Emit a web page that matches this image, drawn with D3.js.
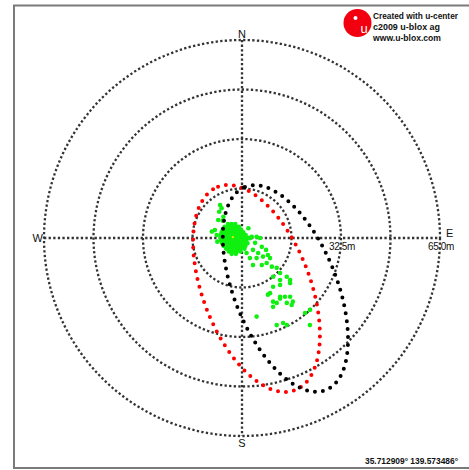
<!DOCTYPE html>
<html>
<head>
<meta charset="utf-8">
<script src="https://cdn.jsdelivr.net/npm/d3@7/dist/d3.min.js"></script>
<style>
  html, body { margin: 0; padding: 0; background: #fff; }
  svg { display: block; }
</style>
</head>
<body>
<script>
// Range rings (metres) and their labels
const ringRadii = [16.25, 32.5, 48.75, 65];
const ringLabels = ["", "32.5m", "", "65.0m"];
const compassLabels = ["N", "E", "S", "W"];

// Error ellipses: centre (m east / m north), semi-axes (m), tilt of major axis from north (deg, + toward east)
const ellipseColors = ["#ff0000", "#000000"];
const ellipseCenterE = [4.76, 14.25];
const ellipseCenterN = [-16.58, -16.58];
const ellipseMajor = [35.7, 35.9];
const ellipseMinor = [17.7, 16.9];
const ellipseTilt = [-20.7, -21.7];

// Position fixes, metres [east, north] from the reference position
const blobFixes = [
  [-4.6,4.6],[-3.4,4.6],[-2.2,4.6],
  [-5.7,3.7],[-4.5,3.7],[-3.2,3.7],[-2.0,3.7],[-1.0,3.7],
  [-6.3,2.8],[-5.1,2.8],[-3.9,2.8],[-2.7,2.8],[-1.5,2.8],[-0.4,2.8],
  [-6.7,1.9],[-5.5,1.9],[-4.3,1.9],[-3.1,1.9],[-1.9,1.9],[-0.8,1.9],[0.4,1.9],
  [-7.0,1.0],[-5.9,1.0],[-4.7,1.0],[-3.5,1.0],[-2.3,1.0],[-1.2,1.0],[0.0,1.0],[1.2,1.0],
  [-7.1,0.1],[-6.0,0.1],[-4.8,0.1],[-3.6,0.1],[-2.4,0.1],[-1.3,0.1],[-0.2,0.1],[1.0,0.1],[2.1,0.1],
  [-6.9,-0.8],[-5.7,-0.8],[-4.5,-0.8],[-3.3,-0.8],[-2.1,-0.8],[-1.0,-0.8],[0.2,-0.8],[1.4,-0.8],
  [-6.5,-1.7],[-5.3,-1.7],[-4.1,-1.7],[-2.9,-1.7],[-1.7,-1.7],[-0.6,-1.7],[0.6,-1.7],[1.8,-1.7],
  [-6.0,-2.6],[-4.8,-2.6],[-3.6,-2.6],[-2.4,-2.6],[-1.2,-2.6],[0.0,-2.6],[1.1,-2.6],
  [-5.2,-3.5],[-4.0,-3.5],[-2.8,-3.5],[-1.6,-3.5],[-0.4,-3.5],[0.8,-3.5],
  [-4.3,-4.4],[-3.0,-4.4],[-1.7,-4.4],[-0.5,-4.4],
  [-3.4,-5.2],[-2.0,-5.2]
];
const strayFixes = [
  [-7.2,10.8],[-6.7,9.8],[-7.5,8.6],[-6.1,7.0],[-7.8,5.9],[-6.3,5.7],
  [-9.9,2.1],[-8.9,2.6],[-8.3,1.0],[-8.1,-1.2],
  [2.1,3.2],[2.6,-0.1],[3.2,0.4],[4.8,0.4],[5.9,0.0],[4.3,-1.6],[6.5,-2.9],[3.6,-3.9],
  [5.3,-4.9],[1.5,-4.9],[2.6,-6.6],[4.8,-6.6],[6.9,-6.1],[8.5,-5.6],[7.9,-3.9],[9.2,-6.6],
  [6.5,-8.9],[3.6,-8.9],[8.1,-8.2],[9.8,-9.4],[11.4,-9.8],[12.5,-11.5],[14.7,-12.7],[10.2,-12.7],
  [12.5,-13.8],[15.8,-13.8],[12.5,-15.4],[15.8,-14.8],[10.2,-16.0],[9.2,-18.1],[8.5,-18.6],
  [12.5,-19.3],[14.1,-19.3],[15.8,-19.3],[12.5,-19.9],[10.2,-20.9],[11.4,-21.3],[14.7,-21.3],
  [16.7,-20.9],[16.3,-22.0],[10.2,-22.6],[4.8,-25.8],[11.4,-28.6],[13.5,-27.9],[14.7,-28.6],
  [20.7,-24.6],[22.3,-23.6],[22.3,-28.6]
];
const meanFix = [[-3.0, 0.3]];

const positionText = "35.712909\u00b0 139.573486\u00b0";
const logoLines = ["Created with u-center", "c2009 u-blox ag", "www.u-blox.com"];

// ---- layout ----
const W = 469, H = 470;
const cx = 242, cy = 238, R = 198;

const svg = d3.select("body").append("svg")
  .attr("width", W).attr("height", H)
  .style("font-family", "'Liberation Sans', Arial, sans-serif");

const r = d3.scaleLinear().domain([0, 65]).range([0, R]);
const x = d3.scaleLinear().domain([-65, 65]).range([cx - R, cx + R]);
const y = d3.scaleLinear().domain([-65, 65]).range([cy + R, cy - R]);

// frame
const frame = svg.append("g").attr("stroke", "#7a7a7a").attr("stroke-width", 2);
frame.append("line").attr("x1", 13).attr("x2", W).attr("y1", 5.5).attr("y2", 5.5);
frame.append("line").attr("x1", 14).attr("x2", 14).attr("y1", 5).attr("y2", 468);
frame.append("line").attr("x1", 13).attr("x2", W).attr("y1", 468).attr("y2", 468);

// dotted range rings and cross axes
const grid = svg.append("g")
  .attr("fill", "none").attr("stroke", "#333")
  .attr("stroke-width", 2.3).attr("stroke-dasharray", "2.3 2.3");
grid.selectAll("circle").data(ringRadii).join("circle")
  .attr("cx", x(0)).attr("cy", y(0)).attr("r", d => r(d));
grid.append("line").attr("x1", x(-65)).attr("x2", x(65)).attr("y1", y(0)).attr("y2", y(0));
grid.append("line").attr("x1", x(0)).attr("x2", x(0)).attr("y1", y(65)).attr("y2", y(-65));

// fixes
const fixes = blobFixes.concat(strayFixes);
svg.append("g").attr("fill", "#10f010")
  .selectAll("circle").data(fixes).join("circle")
  .attr("cx", d => x(d[0])).attr("cy", d => y(d[1])).attr("r", 2.3);
svg.append("g").attr("fill", "#e8e800")
  .selectAll("circle").data(meanFix).join("circle")
  .attr("cx", d => x(d[0])).attr("cy", d => y(d[1])).attr("r", 1.2);

// error ellipses drawn as dotted outlines
const line = d3.line().x(d => x(d[0])).y(d => y(d[1])).curve(d3.curveLinearClosed);
ellipseColors.forEach((col, i) => {
  const th = ellipseTilt[i] * Math.PI / 180;
  const maj = [Math.sin(th), Math.cos(th)];
  const min = [Math.cos(th), -Math.sin(th)];
  const pts = d3.range(0, 360, 2).map(deg => {
    const t = deg * Math.PI / 180;
    const u = ellipseMajor[i] * Math.cos(t), v = ellipseMinor[i] * Math.sin(t);
    return [ellipseCenterE[i] + u * maj[0] + v * min[0],
            ellipseCenterN[i] + u * maj[1] + v * min[1]];
  });
  svg.append("path").attr("d", line(pts))
    .attr("fill", "none").attr("stroke", col)
    .attr("stroke-width", 4).attr("stroke-linecap", "round")
    .attr("stroke-dasharray", "0 8");
});

// ring labels
svg.append("g").attr("font-size", 10).attr("fill", "#111").attr("text-anchor", "middle")
  .selectAll("text").data(ringRadii.map((d, i) => [d, ringLabels[i]]).filter(d => d[1]))
  .join("text")
  .attr("x", d => x(d[0]) + 1).attr("y", y(0) + 12)
  .attr("letter-spacing", -0.4)
  .text(d => d[1]);

// compass letters
const comp = svg.append("g").attr("font-size", 11).attr("fill", "#111");
comp.append("text").attr("x", x(0)).attr("y", y(65) - 2).attr("text-anchor", "middle").text(compassLabels[0]);
comp.append("text").attr("x", x(65) + 6).attr("y", y(0) - 1).attr("text-anchor", "start").text(compassLabels[1]);
comp.append("text").attr("x", x(0)).attr("y", y(-65) + 11).attr("text-anchor", "middle").text(compassLabels[2]);
comp.append("text").attr("x", x(-65) - 1).attr("y", y(0) + 4).attr("text-anchor", "end").text(compassLabels[3]);

// logo
const logo = svg.append("g");
logo.append("circle").attr("cx", 357.5).attr("cy", 23).attr("r", 14).attr("fill", "#f20010");
logo.append("circle").attr("cx", 355.5).attr("cy", 18).attr("r", 2).attr("fill", "#fff");
logo.append("text").attr("x", 364).attr("y", 33).attr("text-anchor", "middle")
  .attr("font-size", 13).attr("fill", "#fff").text("u");
const logoWidths = [85, 67, 68];
logo.selectAll("text.l").data(logoLines).join("text").attr("class", "l")
  .attr("x", 373).attr("y", (d, i) => 19 + i * 11)
  .attr("font-size", 9).attr("font-weight", "bold").attr("fill", "#111")
  .attr("textLength", (d, i) => logoWidths[i]).attr("lengthAdjust", "spacingAndGlyphs")
  .text(d => d);

// position readout
svg.append("text").attr("x", 365).attr("y", 464)
  .attr("font-size", 9).attr("font-weight", "bold").attr("fill", "#111")
  .attr("textLength", 93).attr("lengthAdjust", "spacingAndGlyphs")
  .text(positionText);
</script>
</body>
</html>
